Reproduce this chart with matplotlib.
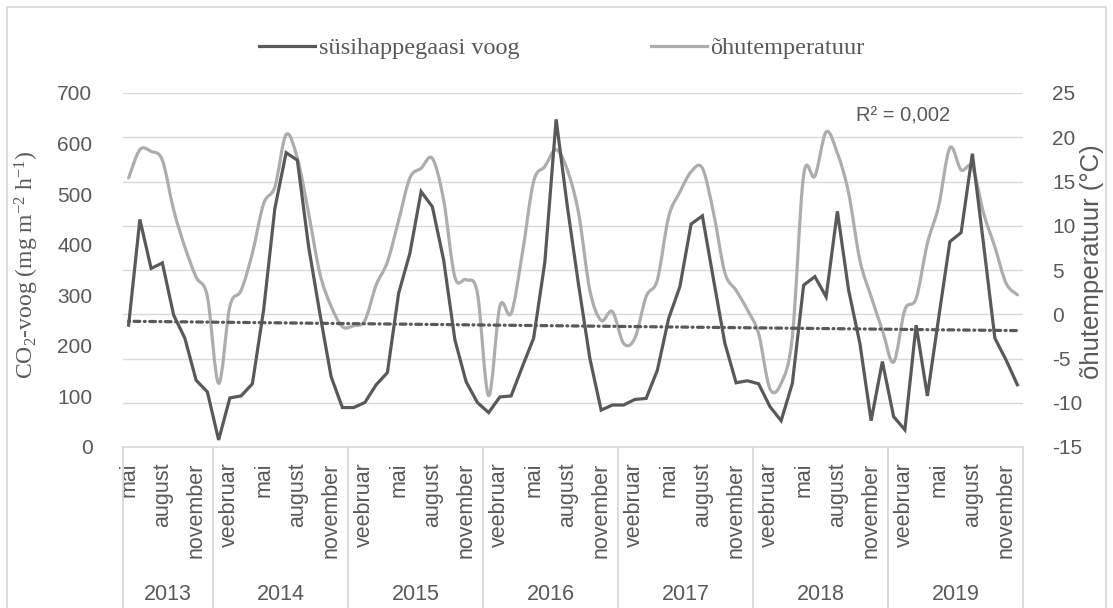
import numpy as np
import matplotlib
matplotlib.use("Agg")
import matplotlib.pyplot as plt
from matplotlib.path import Path
from matplotlib.patches import PathPatch, Rectangle
from matplotlib.lines import Line2D
import matplotlib.transforms as mtransforms

# ---------------- data ----------------
years = [2013, 2014, 2015, 2016, 2017, 2018, 2019]
months_per_year = [8, 12, 12, 12, 12, 12, 12]          # May 2013 ... Dec 2019
tick_labels = ["mai", "august", "november"] + ["veebruar", "mai", "august", "november"] * 6

co2 = [241, 450, 353, 364, 261, 215, 132, 109,
       14, 97, 101, 125, 271, 472, 582, 567, 396, 264, 139, 78,
       78, 88, 123, 147, 304, 383, 505, 475, 370, 212, 129, 88,
       68, 99, 101, 159, 215, 366, 648, 475, 320, 175, 73, 83,
       83, 94, 96, 152, 254, 317, 441, 457, 330, 205, 127, 131,
       125, 80, 52, 126, 320, 337, 297, 466, 310, 205, 52, 169,
       60, 34, 241, 101, 255, 406, 424, 580, 400, 215, 172, 123]

temp = [15.4, 18.6, 18.4, 17.4, 11.8, 7.6, 4.2, 2.0,
        -7.8, 0.9, 2.7, 6.9, 12.5, 14.4, 20.3, 17.6, 11.4, 4.6, 0.9, -1.4,
        -1.3, -0.7, 3.3, 5.9, 10.6, 15.4, 16.5, 17.6, 12.9, 4.2, 3.9, 2.4,
        -9.2, 0.9, 0.1, 6.9, 15.0, 16.7, 18.6, 16.3, 11.4, 2.7, -0.7, 0.3,
        -3.3, -2.7, 2.0, 3.9, 11.0, 13.8, 16.1, 16.5, 11.4, 4.7, 2.7, 0.5,
        -2.2, -8.4, -7.8, -2.5, 15.7, 15.6, 20.6, 18.2, 13.7, 6.1, 2.0, -1.8,
        -5.4, 0.5, 1.8, 8.0, 12.2, 18.8, 16.3, 16.6, 11.4, 7.6, 3.5, 2.2]

r2_text = "R² = 0,002"

# ---------------- style ----------------
DARK = "#595959"
LIGHT = "#ADADAD"
GRID = "#D9D9D9"
TXT = "#595959"
SANS = "Liberation Sans"
SERIF = "Liberation Serif"

plt.rcParams["mathtext.fontset"] = "custom"
plt.rcParams["mathtext.rm"] = SERIF
plt.rcParams["mathtext.it"] = SERIF + ":italic"
plt.rcParams["axes.unicode_minus"] = False

fig = plt.figure(figsize=(11.13, 6.08), dpi=100)
L, R, T, B = 123, 1023, 93, 447
W, H = 1113, 608
ax = fig.add_axes([L / W, 1 - B / H, (R - L) / W, (B - T) / H])
ax2 = ax.twinx()

n = len(co2)
x = np.arange(n)

# secondary axis: smoothed temperature (Catmull-Rom Bezier like Excel smoothing)
tp = np.array(temp, dtype=float)
pts = np.column_stack([x, tp])
verts = [pts[0]]
codes = [Path.MOVETO]
for i in range(n - 1):
    p0 = pts[max(i - 1, 0)]
    p1 = pts[i]
    p2 = pts[i + 1]
    p3 = pts[min(i + 2, n - 1)]
    c1 = p1 + (p2 - p0) / 6.0
    c2 = p2 - (p3 - p1) / 6.0
    verts += [c1, c2, p2]
    codes += [Path.CURVE4] * 3
ax2.add_patch(PathPatch(Path(verts, codes), fill=False, edgecolor=LIGHT,
                        lw=2.3, capstyle="round", joinstyle="round"))
ax2.set_ylim(-15, 25)
ax2.set_yticks(np.arange(-15, 26, 5))
ax2.set_xlim(-0.5, n - 0.5)

# primary axis: CO2 and trend
ax.set_zorder(ax2.get_zorder() + 1)
ax.patch.set_visible(False)
ax.plot(x, co2, color=DARK, lw=2.3, solid_joinstyle="miter")
k, b0 = np.polyfit(x, co2, 1)
ax.plot([x[0], x[-1]], [b0 + k * x[0], b0 + k * x[-1]], color=DARK, lw=2.3,
        linestyle=(0, (0.3, 1.4, 1.8, 1.4)), dash_capstyle="round")
ax.set_ylim(0, 700)
ax.set_yticks(np.arange(0, 701, 100))
ax.set_xlim(-0.5, n - 0.5)

# gridlines (drawn on the secondary axes so they sit under both lines)
for v in np.arange(-15, 26, 5):
    ax2.axhline(v, color=GRID, lw=1.0, zorder=0)

for a in (ax, ax2):
    for s in a.spines.values():
        s.set_visible(False)
ax.spines["bottom"].set_visible(True)
ax.spines["bottom"].set_color(GRID)
ax.spines["bottom"].set_linewidth(1.2)

ax.tick_params(axis="y", length=0, pad=22, labelsize=15, labelcolor=TXT)
ax2.tick_params(axis="y", length=0, pad=21, labelsize=15, labelcolor=TXT)
for lab in ax.get_yticklabels() + ax2.get_yticklabels():
    lab.set_family(SANS)

# category axis: month ticks every 3rd month
tick_pos = [i for i in range(n) if i % 3 == 0]
ax.set_xticks(tick_pos)
ax.set_xticklabels(tick_labels, rotation=90, family=SANS, fontsize=15.5, color=TXT,
                   va="top", ha="center")
ax.tick_params(axis="x", length=0, pad=11)

# year group dividers and labels
trans = mtransforms.blended_transform_factory(ax.transData, ax.transAxes)
bounds = np.concatenate([[0], np.cumsum(months_per_year)]) - 0.5
for bd in bounds:
    ax.add_line(Line2D([bd, bd], [0, -0.48], transform=trans, color=GRID, lw=1.3,
                       clip_on=False))
for yr, a0, a1 in zip(years, bounds[:-1], bounds[1:]):
    ax.text((a0 + a1) / 2, -0.418, str(yr), transform=trans, ha="center", va="center",
            family=SANS, fontsize=15.5, color=TXT)

# axis titles
fig.text(27 / W, 1 - 265 / H, "CO$_\\mathregular{2}$-voog (mg m$^\\mathregular{-2}$ h$^\\mathregular{-1}$)",
         rotation=90, ha="center", va="center", family=SERIF, fontsize=17, color=TXT)
fig.text(1092 / W, 1 - 262 / H, "õhutemperatuur (°C)", rotation=90, ha="center",
         va="center", family=SANS, fontsize=18.5, color=TXT)

# R² label
fig.text(856 / W, 1 - 116 / H, r2_text, ha="left", va="center", family=SANS,
         fontsize=14.5, color=TXT)

# legend
handles = [Line2D([], [], color=DARK, lw=2.3), Line2D([], [], color=LIGHT, lw=2.3)]
fig.legend(handles, ["süsihappegaasi voog", "õhutemperatuur"], loc="center",
           bbox_to_anchor=(562 / W, 1 - 48 / H), ncol=2, frameon=False,
           prop={"family": SERIF, "size": 17.5}, handlelength=2.3, handletextpad=0.15,
           columnspacing=5.4, labelcolor=TXT)

# outer chart border
fig.add_artist(Rectangle((7 / W, -0.05), (1106 - 7) / W, 1.05 - 7 / H,
                         transform=fig.transFigure, fill=False, edgecolor=GRID, lw=1.3))

fig.savefig("out.png", dpi=100, facecolor="white")
